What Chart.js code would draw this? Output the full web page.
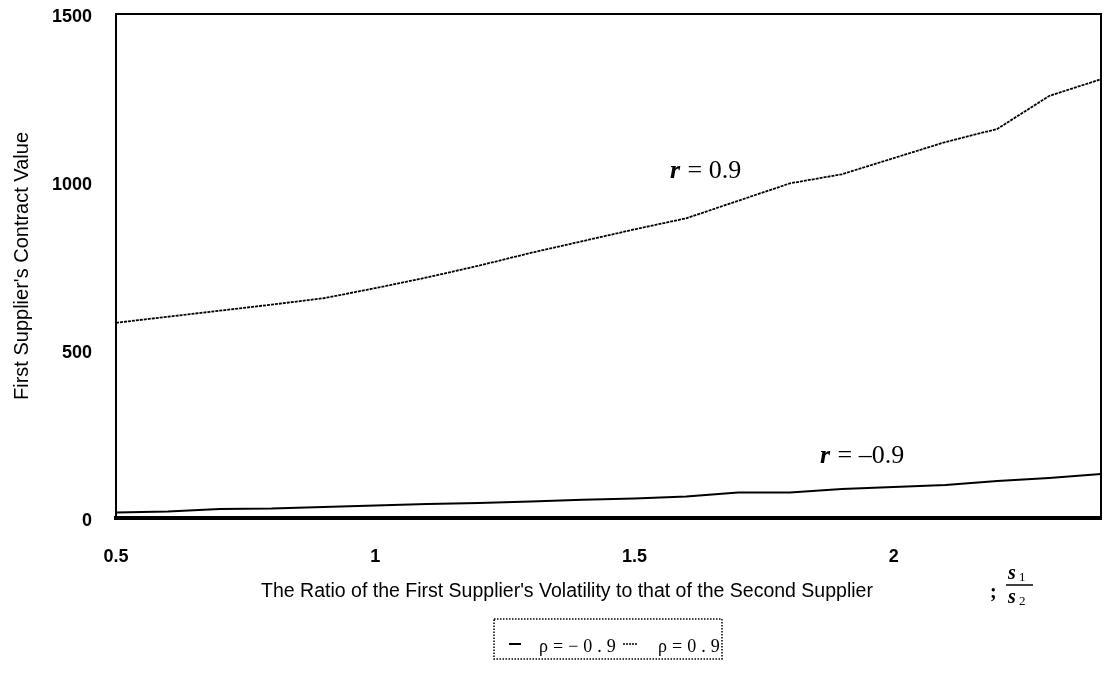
<!DOCTYPE html>
<html>
<head>
<meta charset="utf-8">
<script src="https://cdn.jsdelivr.net/npm/chart.js@4.4.0/dist/chart.umd.min.js"></script>
<style>
  body { margin: 0; background: #fff; }
  #chart { display: block; }
</style>
</head>
<body>
<canvas id="chart" width="1106" height="676"></canvas>
<script>
// volatility ratio s1/s2
var xValues = [0.5, 0.6, 0.7, 0.8, 0.9, 1.0, 1.1, 1.2, 1.3, 1.4, 1.5, 1.6, 1.7, 1.8, 1.9, 2.0, 2.1, 2.2, 2.3, 2.4];
// contract value, rho = -0.9
var rhoNeg = [16, 19, 27, 28, 33, 37, 42, 45, 49, 54, 58, 64, 76, 76, 86, 92, 98, 110, 119, 131];
// contract value, rho = 0.9
var rhoPos = [581, 599, 617, 635, 654, 684, 716, 751, 789, 824, 859, 892, 944, 996, 1023, 1071, 1119, 1158, 1256, 1306];
var xTicks = [0.5, 1, 1.5, 2];
var yTicks = [0, 500, 1000, 1500];
var seriesLabels = ['ρ=−0.9', 'ρ=0.9'];
var curveLabels = ['–0.9', '0.9'];

function toPoints(ys) {
	return xValues.map(function(x, i) { return {x: x, y: ys[i]}; });
}

var sans = "'Liberation Sans', Arial, sans-serif";
var serif = "'Liberation Serif', 'Times New Roman', serif";

// frame, curve labels, x title and legend box
var extras = {
	id: 'extras',
	afterDraw: function(chart) {
		var ctx = chart.ctx;
		var a = chart.chartArea;
		ctx.save();
		ctx.strokeStyle = '#000';
		ctx.lineWidth = 2;
		ctx.beginPath();
		ctx.moveTo(a.left, a.top);
		ctx.lineTo(a.right, a.top);
		ctx.lineTo(a.right, a.bottom);
		ctx.stroke();

		// curve labels
		ctx.fillStyle = '#000';
		ctx.textBaseline = 'alphabetic';
		function curveLabel(txt, x, y) {
			ctx.font = 'italic bold 26px ' + serif;
			ctx.textAlign = 'left';
			ctx.fillText('r', x, y);
			var w = ctx.measureText('r').width;
			ctx.font = '26px ' + serif;
			ctx.fillText(' = ' + txt, x + w + 1, y);
		}
		curveLabel(curveLabels[1], 670, 178);
		curveLabel(curveLabels[0], 820, 463);

		// x axis title
		ctx.font = '19.5px ' + sans;
		ctx.textAlign = 'center';
		var title = "The Ratio of the First Supplier's Volatility to that of the Second Supplier";
		ctx.fillText(title, 567, 597);
		ctx.font = 'bold 20px ' + serif;
		ctx.textAlign = 'left';
		ctx.fillText(';', 990, 598);
		ctx.font = 'italic bold 20px ' + serif;
		ctx.fillText('s', 1008, 579);
		ctx.fillText('s', 1008, 603);
		ctx.font = '13px ' + serif;
		ctx.fillText('1', 1019, 581);
		ctx.fillText('2', 1019, 605);
		ctx.lineWidth = 1.5;
		ctx.beginPath();
		ctx.moveTo(1006, 585);
		ctx.lineTo(1033, 585);
		ctx.stroke();

		// legend
		ctx.lineWidth = 1.5;
		ctx.setLineDash([1.5, 1.5]);
		ctx.strokeRect(494, 619, 228, 40);
		ctx.setLineDash([]);
		ctx.lineWidth = 2;
		ctx.beginPath();
		ctx.moveTo(509, 644);
		ctx.lineTo(521, 644);
		ctx.stroke();
		ctx.setLineDash([2, 1]);
		ctx.lineWidth = 1.5;
		ctx.beginPath();
		ctx.moveTo(623, 644);
		ctx.lineTo(637, 644);
		ctx.stroke();
		ctx.setLineDash([]);
		ctx.font = '18px ' + serif;
		ctx.letterSpacing = '5px';
		ctx.fillText(seriesLabels[0], 539, 652);
		ctx.fillText(seriesLabels[1], 658, 652);
		ctx.restore();
	}
};

var ctx = document.getElementById('chart').getContext('2d');
var chart = new Chart(ctx, {
	type: 'line',
	data: {
		datasets: [{
			label: seriesLabels[0],
			data: toPoints(rhoNeg),
			borderColor: '#000',
			borderWidth: 2,
			pointRadius: 0,
			tension: 0
		}, {
			label: seriesLabels[1],
			data: toPoints(rhoPos),
			borderColor: '#000',
			borderWidth: 1.8,
			borderDash: [3, 1],
			pointRadius: 0,
			tension: 0
		}]
	},
	options: {
		responsive: false,
		animation: false,
		layout: { padding: { top: 14, right: 5, left: 0, bottom: 0 } },
		plugins: {
			legend: { display: false },
			tooltip: { enabled: false }
		},
		scales: {
			x: {
				type: 'linear',
				min: 0.5,
				max: 2.4,
				afterBuildTicks: function(s) { s.ticks = xTicks.map(function(v) { return {value: v}; }); },
				afterFit: function(s) { s.height = 158; s.paddingLeft = 0; s.paddingRight = 0; },
				grid: { display: false, drawTicks: false },
				border: { display: true, color: '#000', width: 4 },
				ticks: {
					color: '#000',
					font: { family: sans, size: 18, weight: 'bold' },
					padding: 28,
					maxRotation: 0,
					callback: function(v) { return String(v); }
				}
			},
			y: {
				min: 0,
				max: 1500,
				afterBuildTicks: function(s) { s.ticks = yTicks.map(function(v) { return {value: v}; }); },
				afterFit: function(s) { s.width = 116; s.paddingTop = 0; s.paddingBottom = 0; },
				grid: { display: false, drawTicks: false },
				border: { display: true, color: '#000', width: 2 },
				ticks: {
					color: '#000',
					font: { family: sans, size: 18, weight: 'bold' },
					padding: 24,
					labelOffset: 3,
					callback: function(v) { return String(v); }
				},
				title: {
					display: true,
					text: "First Supplier's Contract Value",
					color: '#000',
					font: { family: sans, size: 20 },
					padding: { top: 10, bottom: 0 }
				}
			}
		}
	},
	plugins: [extras]
});
</script>
</body>
</html>
